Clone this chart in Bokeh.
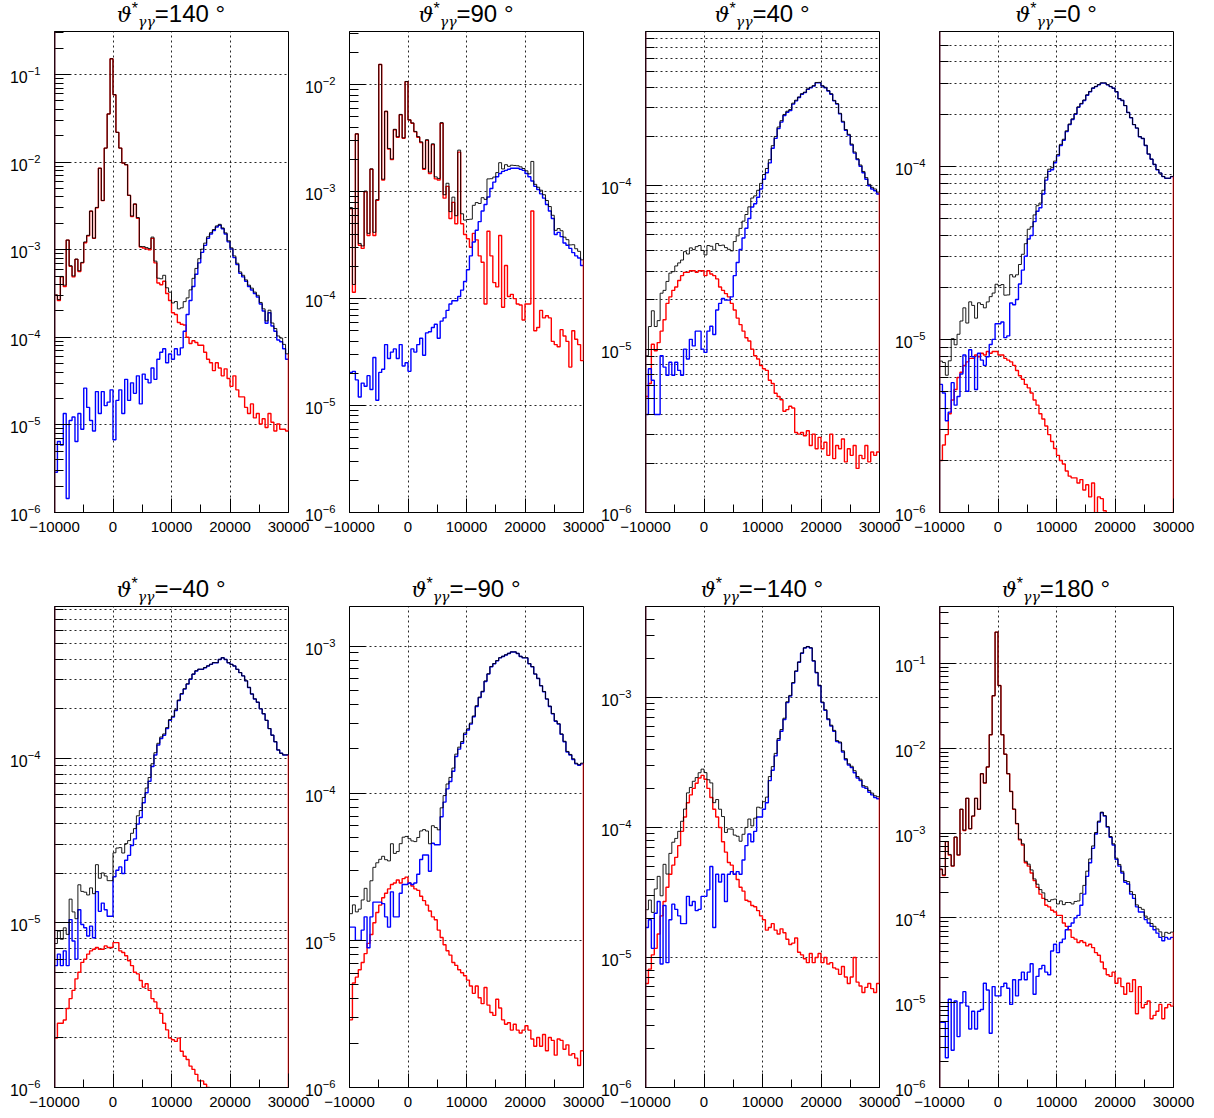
import numpy as np
from bokeh.plotting import figure
from bokeh.layouts import column, row
from bokeh.models import Range1d, FixedTicker, Span, Div, LogTickFormatter
from bokeh.embed import file_html
from bokeh.resources import INLINE

# Histogram binning: 80 bins of 500 between -10000 and 30000
X_MIN, X_MAX, BIN = -10000, 30000, 500
edges = np.arange(X_MIN, X_MAX + BIN, BIN)

# Panel angles (theta*_gamma gamma, degrees)
angles = ["140", "90", "40", "0", "\u221240", "\u221290", "\u2212140", "180"]

# log10 of the normalised yield per bin, background component (red)
red_140 = [-3.52, -3.58, -3.31, -3.42, -2.89, -3.19, -3.31, -3.11, -3.25, -3.15,
           -2.92, -2.84, -2.56, -2.87, -2.52, -2.07, -2.44, -1.84, -1.45, -0.82,
           -1.23, -1.66, -1.84, -2.01, -2.03, -2.38, -2.62, -2.48, -2.64, -2.97,
           -2.98, -2.99, -3.00, -2.87, -3.15, -3.38, -3.40, -3.36, -3.50, -3.58,
           -3.72, -3.74, -3.83, -3.85, -3.86, -4.00, -4.07, -4.04, -4.06, -4.09,
           -4.09, -4.17, -4.25, -4.29, -4.38, -4.29, -4.35, -4.44, -4.36, -4.47,
           -4.56, -4.44, -4.60, -4.68, -4.68, -4.80, -4.87, -4.76, -4.92, -4.87,
           -4.99, -4.93, -5.03, -4.87, -4.97, -5.07, -4.99, -5.05, -5.05, -5.07]
red_90 = [-3.16, -3.94, -2.46, -3.50, -3.53, -3.00, -3.41, -2.79, -3.41, -3.08,
          -1.81, -2.89, -2.25, -2.60, -2.70, -2.42, -2.49, -2.28, -2.50, -1.97,
          -2.33, -2.36, -2.44, -2.49, -2.54, -2.79, -2.52, -2.83, -2.56, -2.88,
          -2.89, -2.36, -3.06, -2.95, -3.25, -3.10, -3.30, -2.63, -3.30, -3.40,
          -3.44, -3.52, -3.39, -3.45, -3.60, -3.66, -4.05, -3.37, -3.60, -3.85,
          -3.89, -3.41, -4.08, -3.69, -3.98, -3.96, -4.00, -4.05, -4.06, -4.20,
          -4.05, -4.05, -3.18, -4.30, -4.27, -4.11, -4.18, -4.16, -4.18, -4.40,
          -4.43, -4.45, -4.29, -4.35, -4.40, -4.64, -4.30, -4.38, -4.43, -4.58]
red_40 = [-5.29, -5.21, -4.97, -5.01, -4.96, -4.89, -4.82, -4.72, -4.68, -4.64,
          -4.62, -4.58, -4.55, -4.53, -4.53, -4.52, -4.52, -4.53, -4.52, -4.52,
          -4.55, -4.52, -4.54, -4.55, -4.57, -4.62, -4.64, -4.66, -4.68, -4.72,
          -4.76, -4.81, -4.85, -4.89, -4.93, -4.95, -5.00, -5.04, -5.06, -5.10,
          -5.12, -5.13, -5.19, -5.21, -5.27, -5.29, -5.31, -5.38, -5.37, -5.35,
          -5.36, -5.51, -5.52, -5.51, -5.53, -5.50, -5.59, -5.52, -5.61, -5.54,
          -5.61, -5.57, -5.65, -5.52, -5.67, -5.59, -5.61, -5.55, -5.69, -5.61,
          -5.65, -5.59, -5.73, -5.65, -5.67, -5.59, -5.69, -5.63, -5.65, -5.63]
red_0 = [-5.70, -5.61, -5.55, -5.43, -5.35, -5.29, -5.22, -5.19, -5.15, -5.13,
         -5.11, -5.11, -5.09, -5.10, -5.08, -5.09, -5.07, -5.08, -5.07, -5.07,
         -5.09, -5.09, -5.11, -5.12, -5.13, -5.15, -5.18, -5.21, -5.23, -5.26,
         -5.28, -5.31, -5.35, -5.38, -5.43, -5.46, -5.50, -5.55, -5.59, -5.63,
         -5.67, -5.70, -5.72, -5.76, -5.79, -5.80, -5.80, -5.83, -5.81, -5.87,
         -5.84, -5.91, -5.83, -6.05, -5.91, -5.92, -5.99, -6.10, -6.20, -6.30,
         -6.30, -6.35, -6.30, -6.40, -6.35, -6.40, -6.45, -6.40, -6.50, -6.45,
         -6.50, -6.55, -6.50, -6.60, -6.55, -6.60, -6.65, -6.60, -6.70, -6.65]
red_m40 = [-5.70, -5.61, -5.61, -5.59, -5.52, -5.46, -5.41, -5.34, -5.30, -5.24,
           -5.22, -5.19, -5.17, -5.16, -5.15, -5.16, -5.16, -5.14, -5.15, -5.15,
           -5.12, -5.12, -5.17, -5.18, -5.20, -5.23, -5.26, -5.30, -5.31, -5.35,
           -5.39, -5.37, -5.41, -5.46, -5.48, -5.52, -5.55, -5.61, -5.65, -5.70,
           -5.71, -5.72, -5.70, -5.78, -5.81, -5.83, -5.87, -5.89, -5.92, -5.96,
           -5.96, -5.98, -6.00, -6.03, -6.08, -6.15, -6.20, -6.30, -6.30, -6.35,
           -6.40, -6.40, -6.45, -6.50, -6.50, -6.55, -6.60, -6.60, -6.65, -6.70,
           -6.70, -6.75, -6.75, -6.80, -6.80, -6.85, -6.85, -6.90, -6.90, -6.95]
red_m90 = [-5.54, -5.29, -5.25, -5.20, -5.15, -5.09, -5.02, -4.96, -4.88, -4.81,
           -4.76, -4.71, -4.68, -4.65, -4.62, -4.61, -4.59, -4.61, -4.58, -4.57,
           -4.61, -4.63, -4.65, -4.66, -4.70, -4.73, -4.76, -4.80, -4.84, -4.86,
           -4.93, -4.98, -5.03, -5.07, -5.10, -5.15, -5.17, -5.20, -5.22, -5.24,
           -5.27, -5.31, -5.36, -5.31, -5.39, -5.43, -5.32, -5.44, -5.49, -5.51,
           -5.40, -5.46, -5.54, -5.57, -5.56, -5.61, -5.57, -5.61, -5.63, -5.61,
           -5.58, -5.61, -5.67, -5.72, -5.66, -5.72, -5.64, -5.75, -5.66, -5.68,
           -5.78, -5.67, -5.68, -5.74, -5.71, -5.78, -5.77, -5.80, -5.85, -5.75]
red_m140 = [-5.20, -5.09, -4.98, -4.93, -4.82, -4.68, -4.57, -4.46, -4.36, -4.29,
            -4.23, -4.14, -4.03, -3.92, -3.81, -3.75, -3.70, -3.66, -3.62, -3.60,
            -3.63, -3.70, -3.77, -3.86, -3.92, -4.00, -4.11, -4.19, -4.27, -4.29,
            -4.36, -4.40, -4.46, -4.49, -4.56, -4.57, -4.60, -4.61, -4.64, -4.68,
            -4.71, -4.79, -4.77, -4.74, -4.79, -4.82, -4.78, -4.81, -4.86, -4.90,
            -4.89, -4.85, -4.96, -4.98, -5.01, -5.04, -4.97, -5.04, -5.00, -4.97,
            -5.04, -5.00, -5.05, -5.04, -5.08, -5.09, -5.13, -5.07, -5.15, -5.20,
            -5.15, -5.00, -5.19, -5.22, -5.27, -5.23, -5.20, -5.24, -5.27, -5.20]
red_180 = [-3.43, -3.50, -3.10, -3.26, -3.39, -3.05, -3.26, -2.72, -2.97, -2.59,
           -2.95, -2.80, -2.59, -2.72, -2.30, -2.41, -2.22, -1.84, -1.38, -0.63,
           -1.26, -1.84, -2.07, -2.30, -2.51, -2.72, -2.89, -3.08, -3.14, -3.35,
           -3.39, -3.47, -3.56, -3.64, -3.72, -3.77, -3.85, -3.87, -3.91, -3.93,
           -3.97, -3.97, -4.06, -4.10, -4.14, -4.23, -4.25, -4.29, -4.27, -4.29,
           -4.33, -4.31, -4.35, -4.41, -4.44, -4.52, -4.60, -4.67, -4.69, -4.64,
           -4.77, -4.71, -4.81, -4.90, -4.77, -4.87, -4.73, -5.13, -4.81, -5.06,
           -5.02, -4.98, -5.19, -5.15, -5.10, -5.02, -5.19, -5.06, -5.02, -5.04]

# log10 of the normalised yield per bin, signal component (blue)
blue_140 = [-5.54, -5.19, -5.23, -4.87, -5.84, -4.95, -4.91, -5.19, -4.87, -5.05,
            -4.58, -4.80, -4.95, -5.07, -4.62, -4.87, -4.62, -4.78, -4.74, -4.60,
            -5.17, -4.72, -4.60, -4.87, -4.48, -4.72, -4.52, -4.64, -4.44, -4.76,
            -4.42, -4.48, -4.52, -4.35, -4.48, -4.25, -4.17, -4.13, -4.29, -4.19,
            -4.25, -4.13, -4.20, -4.12, -3.93, -3.74, -3.58, -3.42, -3.28, -3.15,
            -3.03, -2.95, -2.87, -2.82, -2.78, -2.74, -2.72, -2.76, -2.82, -2.91,
            -2.99, -3.09, -3.17, -3.27, -3.31, -3.36, -3.42, -3.46, -3.50, -3.54,
            -3.62, -3.70, -3.84, -3.72, -3.87, -3.93, -4.03, -4.05, -4.13, -4.25]
blue_90 = [-4.69, -4.68, -4.76, -4.92, -4.79, -4.82, -4.72, -4.85, -4.55, -4.95,
           -4.69, -4.66, -4.43, -4.56, -4.50, -4.47, -4.56, -4.43, -4.63, -4.60,
           -4.68, -4.47, -4.50, -4.43, -4.37, -4.53, -4.32, -4.31, -4.27, -4.24,
           -4.37, -4.21, -4.18, -4.11, -4.05, -4.02, -4.02, -3.98, -3.92, -3.84,
           -3.73, -3.60, -3.47, -3.36, -3.28, -3.18, -3.12, -3.05, -2.97, -2.91,
           -2.86, -2.83, -2.81, -2.80, -2.79, -2.78, -2.78, -2.78, -2.79, -2.80,
           -2.83, -2.86, -2.90, -2.95, -2.98, -3.02, -3.06, -3.12, -3.18, -3.25,
           -3.40, -3.38, -3.42, -3.48, -3.50, -3.53, -3.57, -3.60, -3.62, -3.69]
blue_40 = [-5.40, -5.12, -5.19, -5.40, -5.40, -5.04, -5.11, -5.16, -5.08, -5.16,
           -5.08, -5.13, -5.16, -5.00, -5.06, -4.94, -4.98, -4.89, -4.89, -5.00,
           -5.02, -4.89, -4.86, -4.91, -4.76, -4.72, -4.69, -4.70, -4.70, -4.68,
           -4.55, -4.47, -4.39, -4.32, -4.26, -4.20, -4.13, -4.11, -4.07, -4.02,
           -3.96, -3.92, -3.86, -3.77, -3.71, -3.65, -3.61, -3.57, -3.55, -3.54,
           -3.50, -3.48, -3.46, -3.44, -3.43, -3.41, -3.40, -3.39, -3.37, -3.37,
           -3.39, -3.40, -3.42, -3.44, -3.48, -3.50, -3.56, -3.61, -3.66, -3.69,
           -3.75, -3.80, -3.84, -3.88, -3.92, -3.96, -4.00, -4.02, -4.03, -4.05]
blue_0 = [-5.26, -5.31, -5.47, -5.42, -5.25, -5.38, -5.33, -5.20, -5.09, -5.30,
          -5.06, -5.10, -5.29, -5.08, -5.12, -5.15, -5.10, -5.03, -5.00, -4.91,
          -4.91, -4.90, -4.99, -4.98, -4.79, -4.80, -4.77, -4.68, -4.60, -4.52,
          -4.42, -4.40, -4.32, -4.26, -4.24, -4.16, -4.08, -4.03, -4.02, -3.98,
          -3.94, -3.88, -3.85, -3.80, -3.76, -3.73, -3.70, -3.66, -3.64, -3.62,
          -3.59, -3.57, -3.55, -3.54, -3.53, -3.52, -3.52, -3.53, -3.54, -3.55,
          -3.57, -3.61, -3.62, -3.65, -3.69, -3.72, -3.76, -3.78, -3.83, -3.84,
          -3.88, -3.93, -3.96, -3.99, -4.02, -4.04, -4.06, -4.07, -4.07, -4.06]
blue_m40 = [-5.26, -5.19, -5.26, -5.17, -5.26, -4.98, -5.11, -5.22, -4.92, -5.01,
            -5.03, -5.08, -5.02, -5.09, -4.81, -4.93, -4.88, -4.92, -4.96, -4.96,
            -4.72, -4.68, -4.66, -4.70, -4.62, -4.59, -4.53, -4.49, -4.40, -4.36,
            -4.27, -4.21, -4.14, -4.05, -3.98, -3.92, -3.88, -3.86, -3.82, -3.77,
            -3.75, -3.71, -3.65, -3.61, -3.58, -3.55, -3.52, -3.49, -3.47, -3.46,
            -3.46, -3.45, -3.44, -3.43, -3.42, -3.42, -3.40, -3.39, -3.40, -3.42,
            -3.43, -3.44, -3.46, -3.48, -3.50, -3.53, -3.57, -3.61, -3.64, -3.66,
            -3.70, -3.73, -3.77, -3.82, -3.86, -3.90, -3.95, -3.97, -3.98, -3.98]
blue_m90 = [-4.91, -4.91, -5.00, -5.00, -4.93, -4.84, -5.05, -4.84, -4.74, -4.74,
            -4.74, -4.75, -4.84, -4.91, -4.67, -4.84, -4.84, -4.68, -4.62, -4.62,
            -4.61, -4.62, -4.61, -4.55, -4.45, -4.42, -4.42, -4.53, -4.34, -4.35,
            -4.35, -4.16, -4.06, -3.97, -3.92, -3.85, -3.75, -3.70, -3.66, -3.60,
            -3.57, -3.53, -3.48, -3.41, -3.35, -3.31, -3.24, -3.19, -3.14, -3.12,
            -3.10, -3.08, -3.07, -3.06, -3.05, -3.04, -3.04, -3.05, -3.07, -3.08,
            -3.08, -3.12, -3.14, -3.19, -3.22, -3.27, -3.31, -3.36, -3.41, -3.46,
            -3.51, -3.53, -3.60, -3.65, -3.72, -3.74, -3.77, -3.80, -3.81, -3.80]
blue_m140 = [-4.77, -4.71, -4.93, -4.66, -4.57, -5.05, -4.60, -5.04, -4.71, -4.59,
             -4.63, -4.68, -4.74, -4.74, -4.53, -4.60, -4.57, -4.64, -4.63, -4.53,
             -4.53, -4.48, -4.30, -4.77, -4.36, -4.42, -4.36, -4.57, -4.36, -4.34,
             -4.36, -4.34, -4.36, -4.25, -4.14, -4.05, -4.11, -4.03, -3.92, -3.92,
             -3.86, -3.81, -3.64, -3.56, -3.45, -3.33, -3.26, -3.17, -3.04, -2.99,
             -2.89, -2.80, -2.73, -2.66, -2.62, -2.61, -2.62, -2.72, -2.81, -2.91,
             -3.04, -3.10, -3.17, -3.22, -3.26, -3.34, -3.35, -3.42, -3.48, -3.52,
             -3.54, -3.58, -3.62, -3.64, -3.69, -3.70, -3.73, -3.75, -3.77, -3.78]
blue_180 = [-5.23, -5.23, -5.65, -4.96, -5.56, -4.98, -5.40, -5.00, -4.87, -5.04,
            -5.31, -5.10, -5.31, -5.10, -5.08, -4.77, -4.85, -5.36, -4.81, -4.92,
            -4.92, -4.81, -4.77, -4.83, -5.02, -4.73, -4.92, -4.73, -4.64, -4.73,
            -4.64, -4.54, -4.90, -4.69, -4.60, -4.56, -4.64, -4.67, -4.39, -4.31,
            -4.41, -4.29, -4.25, -4.14, -4.10, -4.06, -4.00, -3.97, -3.85, -3.72,
            -3.51, -3.35, -3.18, -3.01, -2.87, -2.76, -2.80, -2.93, -3.05, -3.14,
            -3.31, -3.39, -3.47, -3.58, -3.60, -3.72, -3.77, -3.87, -3.93, -3.93,
            -4.02, -4.06, -4.10, -4.14, -4.18, -4.23, -4.27, -4.23, -4.25, -4.23]

red_sets = [red_140, red_90, red_40, red_0, red_m40, red_m90, red_m140, red_180]
blue_sets = [blue_140, blue_90, blue_40, blue_0, blue_m40, blue_m90, blue_m140, blue_180]

# Upper end of each panel's logarithmic y axis (the lower end is 1e-6)
Y_MIN = 1e-6
y_tops = [0.31, 0.0315, 8.8e-4, 6.0e-4, 8.35e-4, 1.86e-3, 5.0e-3, 0.47]
# Panels with a narrow range get grid lines at every 1..9 x 10^n
fine_grid = [False, False, True, True, True, False, False, False]
dark_left_edge = [True, False, True, True, True, False, True, True]

FONT = "Liberation Sans"
FRAME_W, FRAME_H = 234, 481
TITLE_H = 28
FRAME_TOP = 31
frame_lefts = [54, 349, 645, 939]   # left edge of each column's frame on the page
LB, RB = 60, 25                    # canvas border around the frame (first column: 54)


def step_xy(vals):
    v = list(vals)
    return list(edges), v + [v[-1]]


def title_div(i, lb, width):
    html = (
        f'<div style="margin-left:{lb}px;width:{FRAME_W}px;text-align:center;'
        f'white-space:nowrap;font-family:\'Liberation Sans\',sans-serif;font-size:24px;'
        f'line-height:27px;color:black;">'
        f'<span style="font-family:\'DejaVu Serif\',serif;font-style:italic;font-size:21px;'
        f'line-height:0;">\u03d1</span>'
        f'<span style="font-size:16px;line-height:0;position:relative;top:-8px;">*</span>'
        f'<span style="font-family:\'DejaVu Serif\',serif;font-style:italic;font-size:14px;'
        f'line-height:0;position:relative;top:5px;">\u03b3\u03b3</span>'
        f'={angles[i]} \u00b0</div>'
    )
    return Div(text=html, width=width, height=TITLE_H, margin=0,
               styles={"overflow": "visible"})


def make_panel(i):
    col = i % 4
    top_row = i < 4
    lb = frame_lefts[0] if col == 0 else LB
    bottom = 63 if top_row else 31
    y_top = y_tops[i]
    width = lb + FRAME_W + RB
    p = figure(width=width, height=(FRAME_TOP - TITLE_H) + FRAME_H + bottom,
               x_range=Range1d(X_MIN, X_MAX), y_range=Range1d(Y_MIN, y_top),
               y_axis_type="log", output_backend="svg", toolbar_location=None,
               min_border_left=lb, min_border_right=RB,
               min_border_top=FRAME_TOP - TITLE_H, min_border_bottom=bottom)
    p.background_fill_color = "white"
    p.border_fill_color = None
    p.outline_line_color = "black"
    p.outline_line_width = 1

    # log-scale tick positions
    top_exp = int(np.floor(np.log10(y_top) + 1e-9))
    decades = [10.0 ** e for e in range(-6, top_exp + 1)]
    fine = [m * 10.0 ** e for e in range(-6, 1) for m in range(1, 10)
            if m * 10.0 ** e <= y_top * 1.0001]
    minor = [v for v in fine if v not in decades]

    p.xaxis.ticker = FixedTicker(ticks=[-10000, 0, 10000, 20000, 30000],
                                 minor_ticks=[-5000, 5000, 15000, 25000])
    p.xaxis.major_label_overrides = {-10000: "\u221210000", 0: "0", 10000: "10000",
                                     20000: "20000", 30000: "30000"}
    p.xaxis.major_label_text_font_size = "15px"
    p.xaxis.major_label_standoff = 9
    p.xaxis.major_tick_in = 14
    p.xaxis.minor_tick_in = 8

    p.yaxis.ticker = FixedTicker(ticks=decades, minor_ticks=minor)
    p.yaxis.formatter = LogTickFormatter()
    p.yaxis.major_label_text_font_size = "16px"
    p.yaxis.major_label_standoff = 14
    p.yaxis.major_tick_in = 16
    p.yaxis.minor_tick_in = 9
    for ax in (p.xaxis, p.yaxis):
        ax.major_label_text_font = FONT
        ax.major_label_text_color = "black"
        ax.major_tick_out = 0
        ax.minor_tick_out = 0
        ax.axis_line_color = "black"
        ax.major_tick_line_color = "black"
        ax.minor_tick_line_color = "black"

    p.xgrid.ticker = FixedTicker(ticks=[0, 10000, 20000])
    p.ygrid.ticker = FixedTicker(ticks=fine if fine_grid[i] else decades)
    for g in (p.xgrid, p.ygrid):
        g.grid_line_color = "black"
        g.grid_line_dash = "2 3"
        g.grid_line_width = 1
        g.grid_line_alpha = 0.85

    red = 10.0 ** np.array(red_sets[i])
    blue = 10.0 ** np.array(blue_sets[i])
    total = red + blue

    xs, ys = step_xy(red)
    p.step(xs, ys, mode="after", line_color="#ff0000", line_width=1.4)
    xs, ys = step_xy(blue)
    p.step(xs, ys, mode="after", line_color="#0000ff", line_width=1.4)
    xs, ys = step_xy(total)
    p.step(xs, ys, mode="after", line_color="black", line_width=1.0, line_alpha=0.9)
    # closing edge of the background histogram at the upper x limit
    p.segment(x0=[X_MAX], y0=[max(red[-1], Y_MIN * 0.5)], x1=[X_MAX], y1=[total[-1]],
              line_color="#ff0000", line_width=1.5)

    if dark_left_edge[i]:
        p.add_layout(Span(location=X_MIN, dimension="height",
                          line_color="#4a0b22", line_width=2))

    # columns overlap slightly so that tick labels of neighbours may share space
    if col == 0:
        shift = 0
    else:
        prev_lb = frame_lefts[0] if col == 1 else LB
        prev_right = frame_lefts[col - 1] - prev_lb + prev_lb + FRAME_W + RB
        shift = (frame_lefts[col] - lb) - prev_right
    return column(title_div(i, lb, width), p, spacing=0, margin=(0, 0, 0, shift))


panels = [make_panel(i) for i in range(8)]
layout = column(row(*panels[:4], spacing=0), row(*panels[4:], spacing=0), spacing=0)

with open("out.html", "w") as f:
    f.write(file_html(layout, INLINE))
